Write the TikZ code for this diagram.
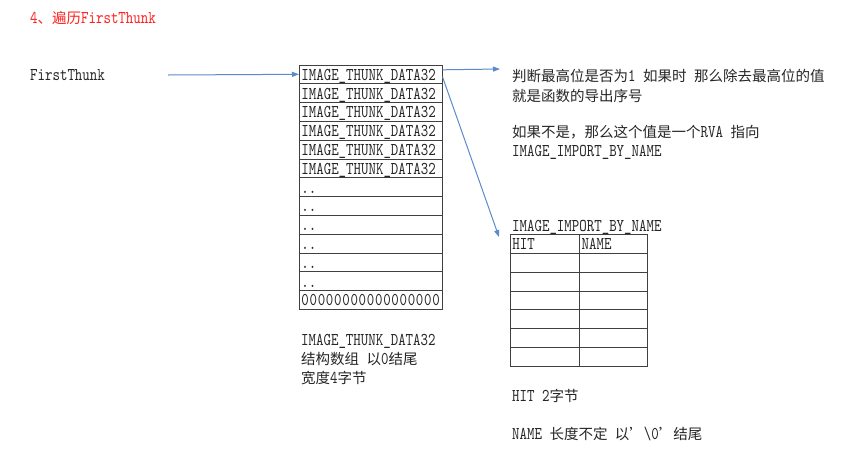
\documentclass[tikz,border=0pt]{standalone}
\usepackage{fontspec}
\setmainfont[FakeStretch=0.79]{lmmono10-regular.otf}
\newfontfamily\cjkfont{Noto Sans CJK SC}
\usetikzlibrary{arrows.meta}
\definecolor{ink}{HTML}{262626}
\definecolor{rule}{HTML}{404040}
\definecolor{link}{HTML}{5B8BC8}
\definecolor{titlered}{HTML}{FF2020}
\newcommand\zh[1]{{\cjkfont\fontsize{14.5}{17}\selectfont #1}}

\begin{document}
\begin{tikzpicture}[x=1pt,y=-1pt,
  every node/.style={font=\fontsize{18}{21}\selectfont, text=ink, inner sep=0pt},
  txt/.style={anchor=base west},
  cell/.style={draw=rule, line width=0.8pt, anchor=north west, minimum height=18.8pt,
               inner xsep=2pt, inner ysep=0pt, text height=13.5pt, text depth=1.5pt, align=left},
  arr/.style={draw=link, line width=1pt, -{Triangle[length=7pt,width=5pt]}}]

\fill[white] (0,0) rectangle (863,456);
\useasboundingbox (0,0) rectangle (863,456);

% heading
\node[txt, text=titlered] (title) at (30,23) {4\zh{、遍历}FirstThunk};

% pointer name
\node[txt] (ft) at (30,80) {FirstThunk};

% IMAGE_THUNK_DATA32 array
\foreach \t [count=\i] in {IMAGE\_THUNK\_DATA32,IMAGE\_THUNK\_DATA32,IMAGE\_THUNK\_DATA32,
    IMAGE\_THUNK\_DATA32,IMAGE\_THUNK\_DATA32,IMAGE\_THUNK\_DATA32,..,..,..,..,..,..}
  \node[cell, text width=138.7pt] (t\i) at (299,{64.5+(\i-1)*18.8}) {\t};
\node[cell, text width=138.7pt] (t13) at (299,{64.5+12*18.8})
  {\addfontfeature{LetterSpace=4}00000000000000000};

% caption under the array
\node[txt] (cap1) at (301,345) {IMAGE\_THUNK\_DATA32};
\node[txt] (cap2) at (301,364) {\zh{结构数组} \zh{以}0\zh{结尾}};
\node[txt] (cap3) at (301,383) {\zh{宽度}4\zh{字节}};

% explanation of the entry value
\node[txt] (n1) at (512,81) {\zh{判断最高位是否为}1 \zh{如果时} \zh{那么除去最高位的值}};
\node[txt] (n2) at (512,101) {\zh{就是函数的导出序号}};
\node[txt] (n3) at (512,137) {\zh{如果不是，那么这个值是一个}RVA \zh{指向}};
\node[txt] (n4) at (512,156) {IMAGE\_IMPORT\_BY\_NAME};

% IMAGE_IMPORT_BY_NAME table
\node[txt] (ibn) at (512,231) {IMAGE\_IMPORT\_BY\_NAME};
\node[cell, text width=65.3pt] (h1) at (510,234) {HIT};
\node[cell, text width=64pt] (m1) at (579.3,234) {NAME};
\foreach \r in {2,...,7} {
  \node[cell, text width=65.3pt] (h\r) at (510,{234+(\r-1)*18.86}) {};
  \node[cell, text width=64pt] (m\r) at (579.3,{234+(\r-1)*18.86}) {};
}

% field notes
\node[txt] (f1) at (512,401) {HIT 2\zh{字节}};
\node[txt] (f2) at (512,439) {NAME \zh{长度不定} \zh{以’}\textbackslash 0\zh{’结尾}};

% connectors
\coordinate (fttail) at (168,75);
\coordinate (notetip) at (500,69);
\coordinate (importtip) at (499,237);
\draw[arr] (fttail) -- (t1.west);
\draw[arr] ([yshift=4.5pt]t1.east) -- (notetip);
\draw[arr] ([yshift=-2.5pt]t1.east) -- (importtip);
\end{tikzpicture}
\end{document}
